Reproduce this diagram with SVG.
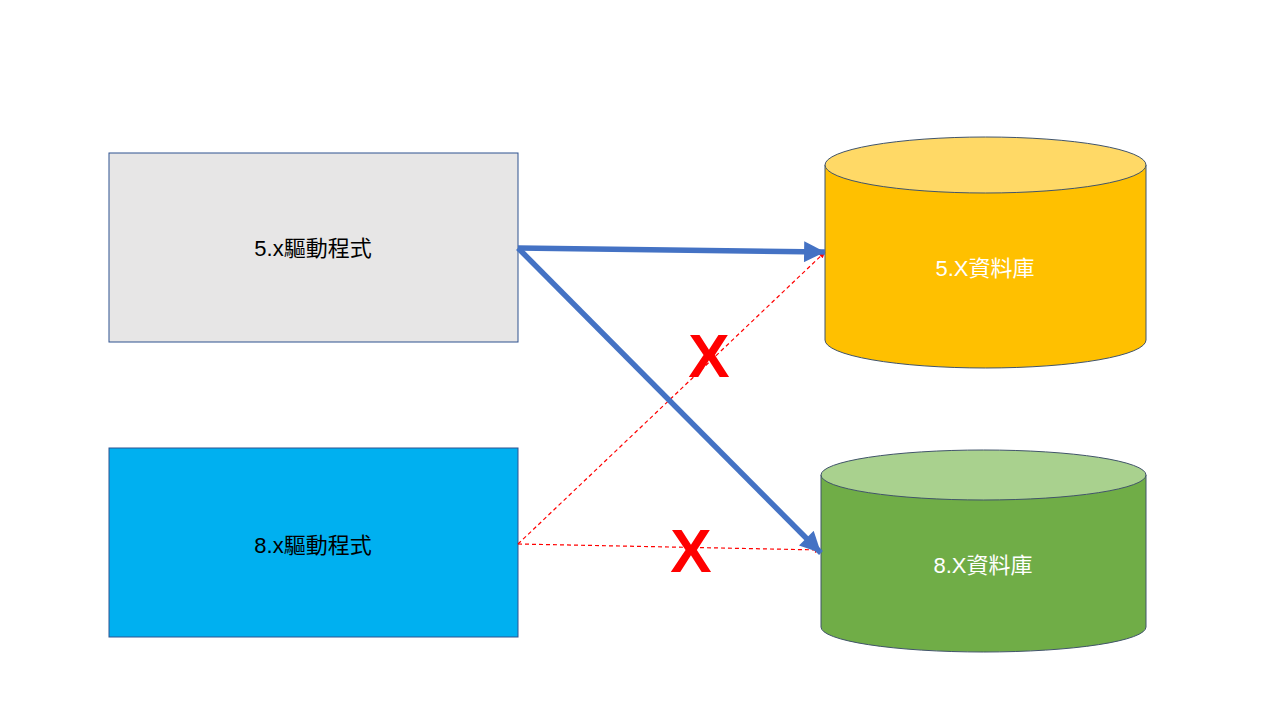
<svg xmlns="http://www.w3.org/2000/svg" width="1280" height="720" viewBox="0 0 1280 720">
<defs>
<style>
.box{stroke:#2F528F;stroke-width:1}
.lbl{font-family:"Liberation Sans","Noto Sans CJK TC",sans-serif;font-size:22px;text-anchor:middle;dominant-baseline:central}
.x{font-family:"Liberation Sans",sans-serif;font-size:62px;font-weight:bold;fill:#FF0000;text-anchor:middle;dominant-baseline:central}
.blue{stroke:#4472C4;stroke-width:5.5;fill:none}
.red{stroke:#FF0000;stroke-width:1.2;stroke-dasharray:4 3;fill:none}
.cyl{stroke:#41546A;stroke-width:1}
</style>
<marker id="ab" viewBox="0 0 10 10" refX="10" refY="5" markerWidth="4" markerHeight="3.8" orient="auto" markerUnits="strokeWidth">
<path d="M0,0L10,5L0,10z" fill="#4472C4"/>
</marker>
<marker id="ar" viewBox="0 0 10 10" refX="10" refY="5" markerWidth="7" markerHeight="6" orient="auto" markerUnits="userSpaceOnUse">
<path d="M0,0L10,5L0,10z" fill="#FF0000"/>
</marker>
</defs>
<rect width="1280" height="720" fill="#FFFFFF"/>
<g id="driver5">
<rect class="box" x="109" y="153" width="409" height="189" fill="#E7E6E6"/>
<text class="lbl" x="313" y="248" fill="#000000">5.x驅動程式</text>
</g>
<g id="driver8">
<rect class="box" x="109" y="448" width="409" height="189" fill="#00B0F0"/>
<text class="lbl" x="313" y="545" fill="#000000">8.x驅動程式</text>
</g>
<g id="db5">
<path class="cyl" d="M825,165 L825,340 A160.5,28 0 0 0 1146,340 L1146,165 Z" fill="#FFC000"/>
<ellipse class="cyl" cx="985.5" cy="165" rx="160.5" ry="28" fill="#FFD966"/>
<text class="lbl" x="985" y="268" fill="#FFFFFF">5.X資料庫</text>
</g>
<g id="db8">
<path class="cyl" d="M821,475 L821,627 A162.5,25 0 0 0 1146,627 L1146,475 Z" fill="#70AD47"/>
<ellipse class="cyl" cx="983.5" cy="475" rx="162.5" ry="25" fill="#A9D18E"/>
<text class="lbl" x="983" y="565" fill="#FFFFFF">8.X資料庫</text>
</g>
<g id="connectors">
<line class="red" x1="518" y1="544" x2="825" y2="252" marker-end="url(#ar)"/>
<line class="red" x1="518" y1="544" x2="821" y2="550" marker-end="url(#ar)"/>
<line class="blue" x1="518" y1="248" x2="825" y2="252" marker-end="url(#ab)"/>
<line class="blue" x1="518" y1="248" x2="821" y2="553" marker-end="url(#ab)"/>
</g>
<text class="x" x="709" y="355">X</text>
<text class="x" x="691" y="550">X</text>
</svg>
